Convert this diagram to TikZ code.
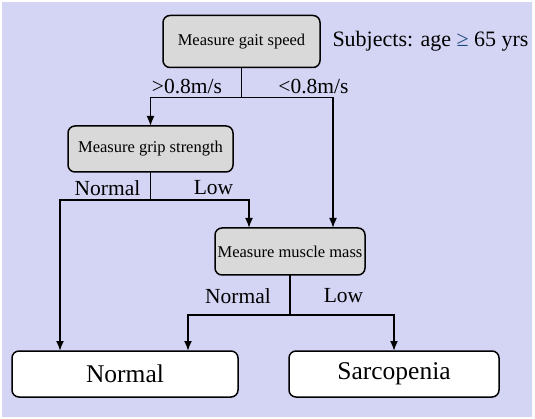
\documentclass[tikz,border=0pt]{standalone}
\usepackage{fontspec}
\setmainfont{Liberation Serif}
\usetikzlibrary{arrows.meta}
\definecolor{mylavender}{RGB}{212, 212, 244}
\definecolor{mygray}{RGB}{217, 217, 217}
\definecolor{myblue}{RGB}{31, 73, 125}

\begin{document}
\begin{tikzpicture}[
    x=1pt, y=-1pt,
    box/.style={
        draw,
        line width=1.5pt,
        rounded corners=7pt,
        inner sep=0pt,
        outer sep=0pt
    },
    testbox/.style={box, fill=mygray, font=\fontsize{16.5}{19}\selectfont},
    resultbox/.style={box, fill=white, font=\fontsize{25.5}{29}\selectfont},
    lab/.style={inner sep=0pt, font=\fontsize{21.5}{24}\selectfont},
    line/.style={line width=1.8pt},
    arr/.style={line, -{Latex[length=10pt, width=8pt]}}
]

\useasboundingbox (0,0) rectangle (535,419);
\fill[mylavender] (2,2) rectangle (532,417);

% boxes
\node[testbox, minimum width=157, minimum height=52] (gait) at (241.5,41.5) {Measure gait speed};
\node[testbox, minimum width=165, minimum height=46] (grip) at (150.5,149) {Measure grip strength};
\node[testbox, minimum width=150, minimum height=47] (muscle) at (290,251.5) {Measure muscle mass};
\node[resultbox, minimum width=226, minimum height=46] (normal) at (125,374) {Normal};
\node[resultbox, minimum width=210, minimum height=46] (sarco) at (394,374) {Sarcopenia};

\node[inner sep=0pt, font=\fontsize{22}{26}\selectfont] (subjects) at (430.5,41)
    {Subjects: age {\color{myblue}≥} 65 yrs};

% connectors
\draw[line] (gait.south) -- ++(0,30) coordinate (s1);
\draw[arr] (s1) -| (grip.north);
\draw[arr] (s1) -| ([xshift=43pt]muscle.north);

\draw[line] (grip.south) -- ++(0,28) coordinate (s2);
\draw[arr] (s2) -| ([xshift=-41pt]muscle.north);
\draw[arr] (s2) -| ([xshift=-65pt]normal.north);

\draw[line] (muscle.south) -- ++(0,40) coordinate (s3);
\draw[arr] (s3) -| ([xshift=63pt]normal.north);
\draw[arr] (s3) -| (sarco.north);

% labels
\node[lab] (fast) at (187,87) {>0.8m/s};
\node[lab] (slow) at (313.5,87) {<0.8m/s};
\node[lab] (gnorm) at (107.5,188) {Normal};
\node[lab] (glow) at (213.5,188) {Low};
\node[lab] (mnorm) at (238,296) {Normal};
\node[lab] (mlow) at (343.5,296) {Low};

\end{tikzpicture}
\end{document}
